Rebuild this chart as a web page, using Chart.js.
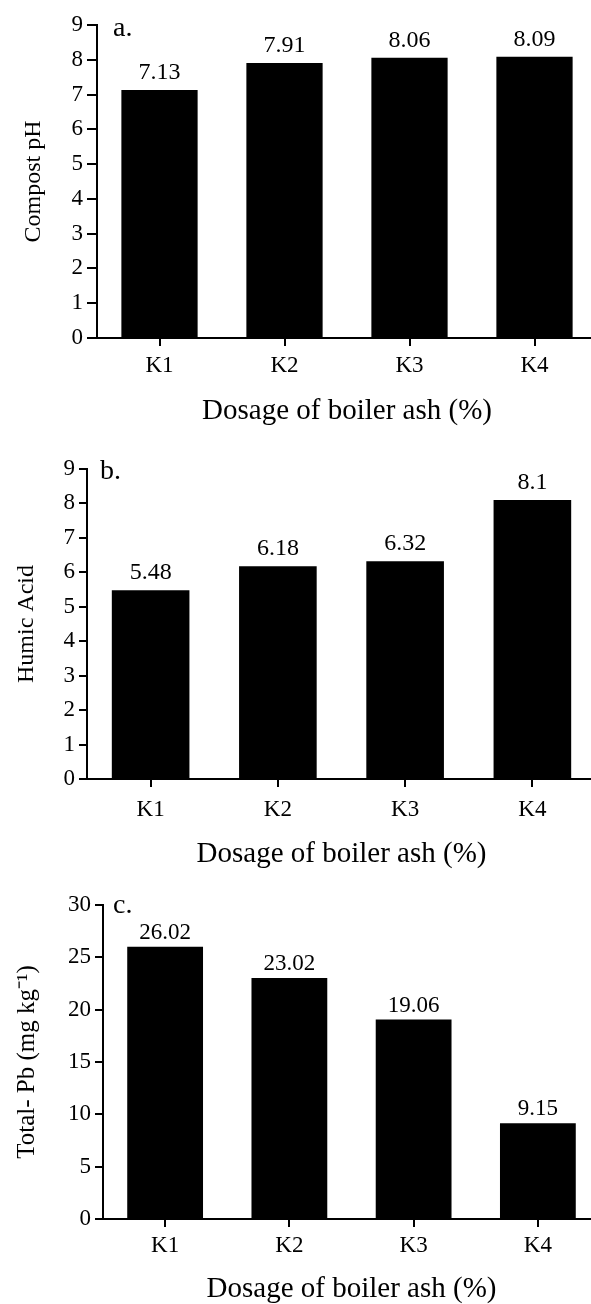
<!DOCTYPE html>
<html>
<head>
<meta charset="utf-8">
<script src="https://cdn.jsdelivr.net/npm/chart.js@4.4.1/dist/chart.umd.min.js"></script>
<style>
html, body { margin: 0; padding: 0; background: #fff; width: 591px; height: 1304px; overflow: hidden; }
.panel { position: absolute; left: 0; }
</style>
</head>
<body>
<div class="panel" style="top:0px;width:597px;height:435px"><canvas id="chart-a"></canvas></div>
<div class="panel" style="top:435px;width:596px;height:435px"><canvas id="chart-b"></canvas></div>
<div class="panel" style="top:870px;width:600px;height:434px"><canvas id="chart-c"></canvas></div>
<script>
var serif = '"Liberation Serif", "Times New Roman", serif'

// data
var categories = ["K1", "K2", "K3", "K4"]
var ph_values = [7.13, 7.91, 8.06, 8.09]
var humic_values = [5.48, 6.18, 6.32, 8.1]
var pb_values = [26.02, 23.02, 19.06, 9.15]

// [min, max, step]
var ph_range = [0, 9, 1]
var humic_range = [0, 9, 1]
var pb_range = [0, 30, 5]

var x_title = "Dosage of boiler ash (%)"

// value labels on top of the bars + panel letter
var barLabels = {
    id: 'barLabels',
    afterDatasetsDraw: function (chart, args, opts) {
        var ctx = chart.ctx
        ctx.save()
        ctx.fillStyle = '#000'
        ctx.textAlign = 'center'
        ctx.textBaseline = 'alphabetic'
        ctx.font = opts.size + 'px ' + serif
        var meta = chart.getDatasetMeta(0)
        var data = chart.data.datasets[0].data
        meta.data.forEach(function (bar, i) {
            ctx.fillText(String(data[i]), bar.x, bar.y - opts.gap)
        })
        ctx.textAlign = 'left'
        ctx.font = '28px ' + serif
        ctx.fillText(opts.letter, chart.chartArea.left + opts.letterX, chart.chartArea.top + opts.letterY)
        ctx.restore()
    }
}

function plotBarChart(id, values, range, yTitle, p) {
    return new Chart(document.getElementById(id), {
        type: 'bar',
        data: {
            labels: categories,
            datasets: [{
                data: values,
                backgroundColor: '#000',
                borderWidth: 0,
                barPercentage: 0.61,
                categoryPercentage: 1
            }]
        },
        plugins: [barLabels],
        options: {
            responsive: true,
            maintainAspectRatio: false,
            animation: false,
            layout: { padding: { top: p.top, left: 0, right: 0, bottom: 0 } },
            plugins: {
                legend: { display: false },
                tooltip: { enabled: false },
                barLabels: { size: p.labelSize, gap: p.gap, letter: p.letter, letterX: p.letterX, letterY: p.letterY }
            },
            scales: {
                x: {
                    afterFit: function (scale) { scale.height = p.xHeight },
                    border: { display: true, color: '#000', width: 2 },
                    grid: { display: true, drawOnChartArea: false, drawTicks: true, tickLength: 8, color: '#000', lineWidth: 2, offset: false },
                    ticks: { color: '#000', padding: p.xPad, font: { family: serif, size: 23, lineHeight: 1 } },
                    title: { display: true, text: x_title, color: '#000', font: { family: serif, size: 29, lineHeight: 1 }, padding: { top: 0, bottom: p.titlePad } }
                },
                y: {
                    min: range[0],
                    max: range[1],
                    afterFit: function (scale) { scale.width = p.left },
                    border: { display: true, color: '#000', width: 2 },
                    grid: { display: true, drawOnChartArea: false, drawTicks: true, tickLength: p.yTick, color: '#000', lineWidth: 2 },
                    ticks: { stepSize: range[2], color: '#000', padding: 4, font: { family: serif, size: 23, lineHeight: 1.2 } },
                    title: { display: true, text: yTitle, color: '#000', font: { family: serif, size: p.yTitleSize, lineHeight: 1 }, padding: { top: p.yTitlePad, bottom: 0 } }
                }
            }
        }
    })
}

plotBarChart("chart-a", ph_values, ph_range, "Compost pH",
    { top: 25, left: 97, xHeight: 97, xPad: 8, titlePad: 9, yTick: 10, yTitleSize: 24, yTitlePad: 22, labelSize: 24, gap: 11, letter: "a.", letterX: 16, letterY: 11 })
plotBarChart("chart-b", humic_values, humic_range, "Humic Acid",
    { top: 34, left: 87, xHeight: 91, xPad: 11, titlePad: 1, yTick: 8, yTitleSize: 24, yTitlePad: 15, labelSize: 24, gap: 11, letter: "b.", letterX: 13, letterY: 10 })
plotBarChart("chart-c", pb_values, pb_range, "Total- Pb (mg kg\u207B\u00B9)",
    { top: 35, left: 103, xHeight: 85, xPad: 7, titlePad: 0, yTick: 8, yTitleSize: 25, yTitlePad: 15, labelSize: 23, gap: 8, letter: "c.", letterX: 10, letterY: 8 })
</script>
</body>
</html>
